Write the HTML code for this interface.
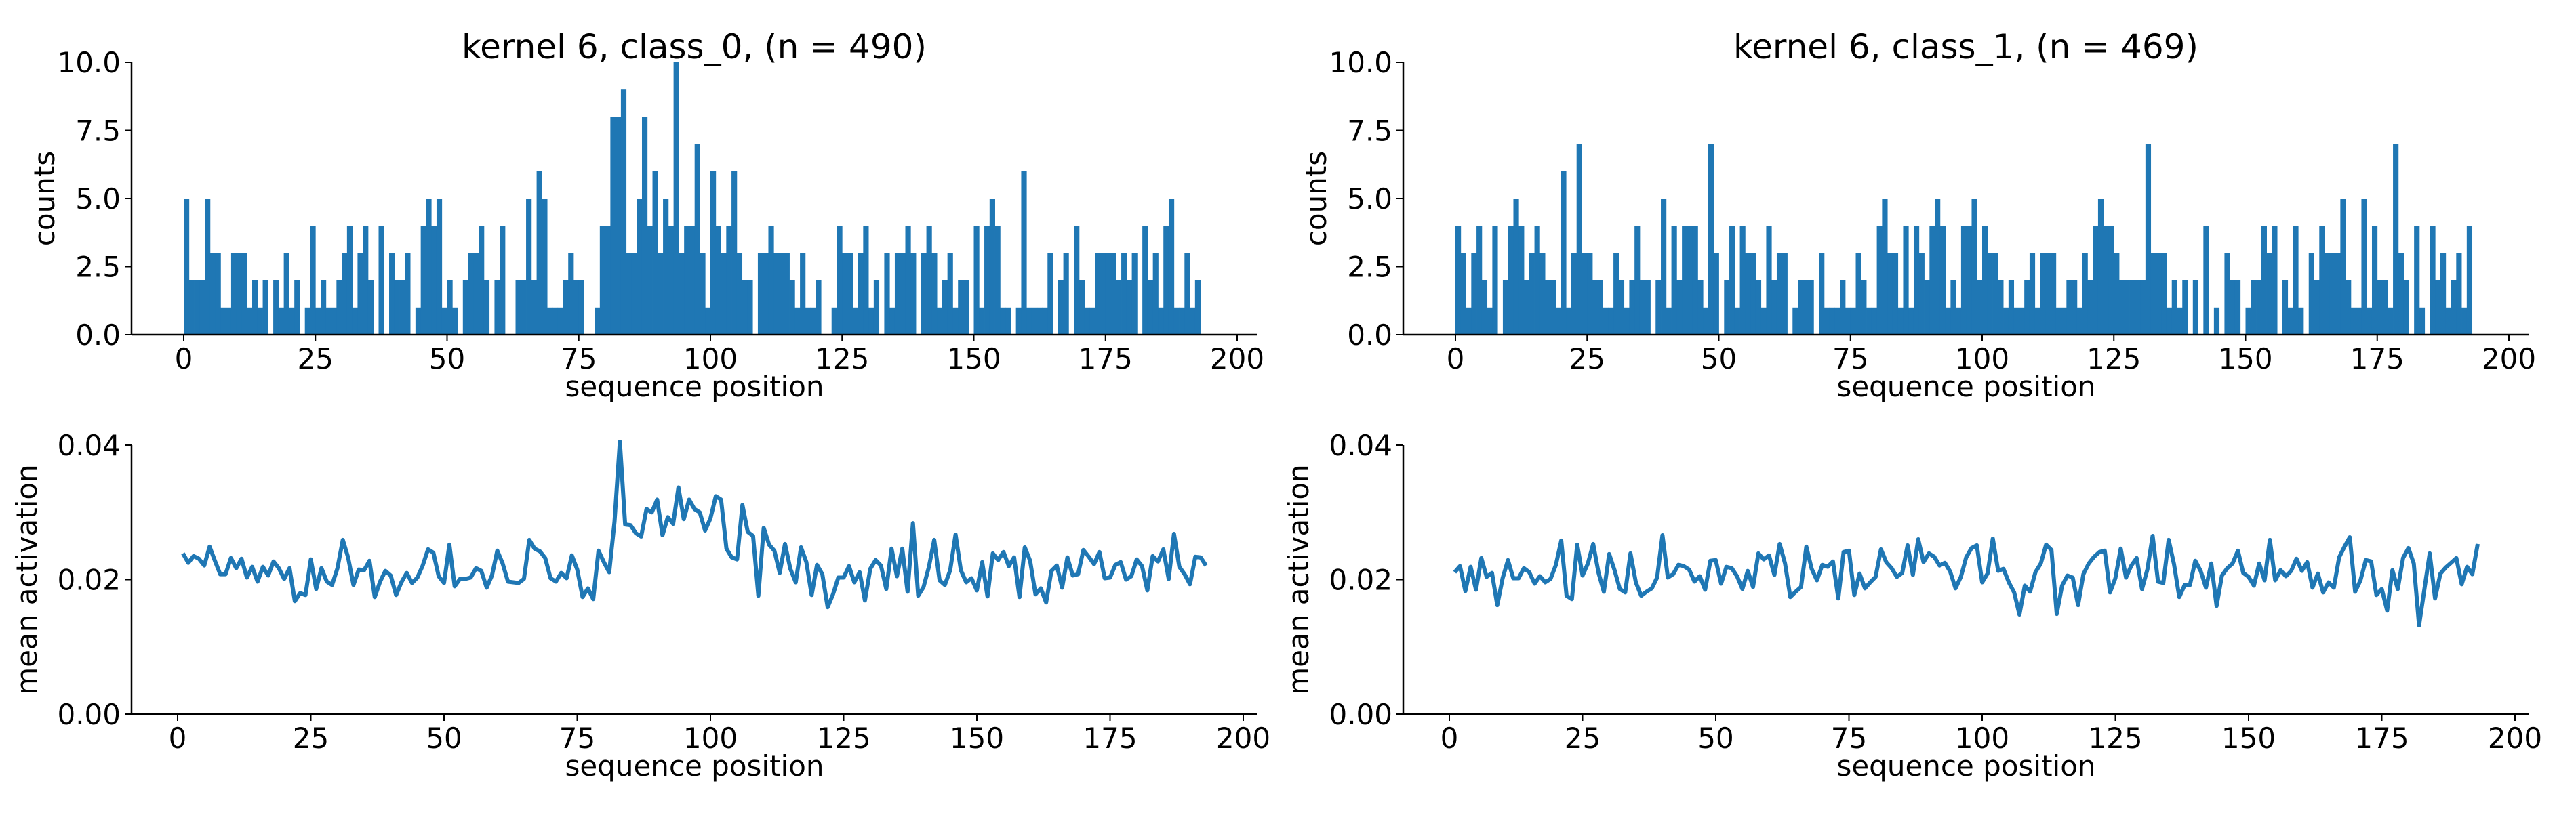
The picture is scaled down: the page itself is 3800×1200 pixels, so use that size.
<!DOCTYPE html>
<html><head><meta charset="utf-8">
<style>
html,body{margin:0;padding:0;background:#fff;}
svg{display:block;font-family:"DejaVu Sans","Liberation Sans",sans-serif;}
</style></head>
<body>
<svg id="fig" width="3800" height="1200" viewBox="0 0 3800 1200" xmlns="http://www.w3.org/2000/svg">
<rect width="3800" height="1200" fill="#fff"/>
</svg>
<script>
const counts0 = [5,2,2,2,5,3,3,1,1,3, 3,3,1,2,1,2,0,2,1,3, 1,2,0,1,4,1,2,1,1,2, 3,4,1,3,4,2,0,4,0,3,
 2,2,3,0,1,4,5,4,5,1, 2,1,0,2,3,3,4,2,0,2, 4,0,0,2,2,5,2,6,5,1, 1,1,2,3,2,2,0,0,1,4,
 4,8,8,9,3,3,5,8,4,6, 3,5,4,10,3,4,4,7,3,1, 6,4,3,4,6,3,2,2,0,3, 3,4,3,3,3,2,1,3,1,1,
 2,0,0,1,4,3,3,1,3,4, 1,2,0,3,1,3,3,4,3,0, 3,4,3,1,2,3,1,2,2,0, 4,1,4,5,4,1,1,0,1,6,
 1,1,1,1,3,0,2,3,0,4, 2,1,1,3,3,3,3,2,3,2, 3,0,4,2,3,1,4,5,1,1, 3,1,2];
const counts1 = [4,3,1,3,4,2,1,4,0,2, 4,5,4,2,3,4,3,2,2,1, 6,1,3,7,3,3,2,2,1,1, 3,2,1,2,4,2,2,0,2,5,
 1,4,2,4,4,4,2,1,7,3, 0,2,4,1,4,3,3,2,1,4, 2,3,3,0,1,2,2,2,0,3, 1,1,1,2,1,1,3,2,1,1,
 4,5,3,3,1,4,1,4,3,2, 4,5,4,1,2,1,4,4,5,2, 4,3,3,2,1,2,1,1,2,3, 1,3,3,3,1,1,2,2,1,3,
 2,4,5,4,4,3,2,2,2,2, 2,7,3,3,3,1,2,1,2,0, 2,0,4,0,1,0,3,2,2,0, 1,2,2,4,3,4,0,2,1,4,
 1,0,3,2,4,3,3,3,5,2, 1,1,5,1,4,2,2,1,7,3, 2,0,4,1,0,4,2,3,1,2, 3,1,4];
const act0 = [.0239,.0225,.0235,.0231,.0221,.0249,.0228,.0208,.0208,.0232,
 .0217,.0231,.0203,.0219,.0197,.0219,.0206,.0227,.0217,.0201,
 .0217,.0168,.0180,.0177,.0230,.0186,.0217,.0197,.0192,.0217,
 .0259,.0233,.0192,.0215,.0214,.0228,.0174,.0197,.0213,.0206,
 .0177,.0196,.0210,.0195,.0203,.0221,.0245,.0240,.0205,.0195,
 .0252,.0190,.0201,.0201,.0203,.0217,.0213,.0188,.0206,.0243,
 .0224,.0197,.0196,.0195,.0201,.0259,.0246,.0242,.0232,.0202,
 .0197,.0210,.0202,.0236,.0215,.0174,.0187,.0171,.0243,.0226,
 .0211,.0286,.0405,.0282,.0281,.0269,.0264,.0305,.0300,.0319,
 .0266,.0293,.0283,.0337,.0290,.0319,.0305,.0300,.0273,.0291,
 .0324,.0319,.0246,.0233,.0230,.0311,.0271,.0265,.0176,.0277,
 .0252,.0243,.0210,.0253,.0216,.0196,.0248,.0226,.0177,.0222,
 .0208,.0159,.0178,.0203,.0203,.0220,.0196,.0211,.0169,.0216,
 .0229,.0221,.0186,.0246,.0205,.0246,.0182,.0284,.0176,.0189,
 .0219,.0259,.0199,.0192,.0214,.0267,.0214,.0196,.0202,.0184,
 .0226,.0175,.0239,.0229,.0241,.0220,.0233,.0174,.0248,.0228,
 .0178,.0187,.0166,.0213,.0221,.0188,.0233,.0206,.0208,.0244,
 .0234,.0223,.0241,.0202,.0203,.0222,.0226,.0200,.0205,.0230,
 .0220,.0184,.0235,.0227,.0245,.0201,.0268,.0219,.0208,.0193,
 .0234,.0233,.0221];
const act1 = [.0211,.0220,.0183,.0219,.0185,.0232,.0204,.0210,.0162,.0202,
 .0229,.0202,.0202,.0217,.0211,.0194,.0205,.0196,.0201,.0222,
 .0258,.0176,.0171,.0252,.0206,.0224,.0253,.0210,.0182,.0238,
 .0214,.0186,.0181,.0239,.0196,.0176,.0182,.0187,.0203,.0266,
 .0203,.0208,.0222,.0220,.0215,.0197,.0205,.0185,.0228,.0229,
 .0194,.0219,.0217,.0205,.0186,.0213,.0189,.0239,.0230,.0236,
 .0207,.0253,.0224,.0174,.0182,.0189,.0249,.0216,.0199,.0222,
 .0219,.0227,.0172,.0241,.0243,.0177,.0209,.0187,.0196,.0204,
 .0245,.0226,.0217,.0204,.0210,.0251,.0207,.0260,.0226,.0239,
 .0234,.0221,.0225,.0212,.0187,.0204,.0233,.0247,.0251,.0196,
 .0209,.0261,.0213,.0216,.0196,.0181,.0148,.0191,.0182,.0211,
 .0224,.0252,.0244,.0149,.0191,.0206,.0203,.0162,.0208,.0224,
 .0234,.0241,.0243,.0181,.0202,.0246,.0203,.0221,.0232,.0186,
 .0215,.0265,.0197,.0195,.0259,.0223,.0174,.0192,.0192,.0228,
 .0213,.0188,.0224,.0161,.0206,.0217,.0224,.0243,.0210,.0204,
 .0191,.0224,.0199,.0259,.0199,.0214,.0205,.0213,.0231,.0213,
 .0226,.0188,.0209,.0181,.0196,.0188,.0233,.0249,.0263,.0182,
 .0199,.0229,.0227,.0177,.0186,.0154,.0214,.0186,.0232,.0247,
 .0224,.0132,.0186,.0239,.0172,.0209,.0218,.0225,.0232,.0193,
 .0219,.0208,.0253];
const xTicks = [0,25,50,75,100,125,150,175,200];
const countTicks = [0,2.5,5,7.5,10];
const countTickLabels = ["0.0","2.5","5.0","7.5","10.0"];
const actTicks = [0,0.02,0.04];
const actTickLabels = ["0.00","0.02","0.04"];
const titles = ["kernel 6, class_0, (n = 490)","kernel 6, class_1, (n = 469)"];

const NS="http://www.w3.org/2000/svg";
const svg=document.getElementById('fig');
const C="#1f77b4";
function mk(tag,attrs,parent){const e=document.createElementNS(NS,tag);for(const k in attrs)e.setAttribute(k,attrs[k]);(parent||svg).appendChild(e);return e;}

function axes(g,opt){
  const l=mk('line',{x1:opt.left,y1:opt.top,x2:opt.left,y2:opt.bottom,stroke:"#000","stroke-width":2.5},g);
  
  
  const b=mk('line',{x1:opt.left,y1:opt.bottom,x2:opt.right,y2:opt.bottom,stroke:"#000","stroke-width":2.5},g);
  
  
  xTicks.forEach(t=>{
    const x=opt.xs(t);
    const tk=mk('line',{x1:x,y1:opt.bottom,x2:x,y2:opt.bottom+10,stroke:"#000","stroke-width":2},g);
    
    
    const tx=mk('text',{x:x,y:opt.bottom+50,"font-size":42,"text-anchor":"middle",fill:"#000"},g);
    tx.textContent=String(t);
    
    
  });
  opt.yt.forEach((t,i)=>{
    const y=opt.ys(t);
    const tk=mk('line',{x1:opt.left-10,y1:y,x2:opt.left,y2:y,stroke:"#000","stroke-width":2},g);
    
    
    const tx=mk('text',{x:opt.left-16,y:y+15,"font-size":42,"text-anchor":"end",fill:"#000"},g);
    tx.textContent=opt.ytl[i];
    
    
  });
  const xl=mk('text',{x:(opt.left+opt.right)/2,y:opt.bottom+91,"font-size":42,"text-anchor":"middle",fill:"#000"},g);
  xl.textContent="sequence position";
  
  
  const cy=(opt.top+opt.bottom)/2;
  const yl=mk('text',{x:opt.left-(opt.ylx),y:cy,"font-size":42,"text-anchor":"middle",fill:"#000",transform:`rotate(-90 ${opt.left-opt.ylx} ${cy})`},g);
  yl.textContent=opt.ylabel;
  
  
}

[0,1].forEach(pi=>{
  const off=pi*1876;
  const counts=pi?counts1:counts0;
  const act=pi?act1:act0;
  const g=mk('g',{});
  
  
  const x0=271+off, top=92, bottom=494;
  const xs=v=>x0+7.77*v;
  const ys=v=>bottom-(bottom-top)*v/10;
  counts.forEach((c,i)=>{
    if(c<=0)return;
    const r=mk('rect',{x:xs(i),y:ys(c),width:xs(i+1)-xs(i)+0.4,height:bottom-ys(c),fill:C},g);
    
    
  });
  axes(g,{left:194+off,right:1855+off,top:top,bottom:bottom,xs:xs,ys:ys,yt:countTicks,ytl:countTickLabels,ylabel:"counts",ylx:114});
  const tt=mk('text',{x:1024+off,y:86,"font-size":50,"text-anchor":"middle",fill:"#000"},g);
  tt.textContent=titles[pi];
  
  

  const g2=mk('g',{});
  
  
  const bx0=262+off, btop=657, bbot=1054;
  const bxs=v=>bx0+7.86*v;
  const bys=v=>bbot-(bbot-btop)*v/0.04;
  const pts=act.map((v,i)=>bxs(i+1).toFixed(1)+","+bys(v).toFixed(1)).join(" ");
  const pl=mk('polyline',{points:pts,fill:"none",stroke:C,"stroke-width":6,"stroke-linejoin":"round","stroke-linecap":"butt"},g2);
  
  
  axes(g2,{left:194+off,right:1855+off,top:btop,bottom:bbot,xs:bxs,ys:bys,yt:actTicks,ytl:actTickLabels,ylabel:"mean activation",ylx:140});
});
</script>
</body></html>
